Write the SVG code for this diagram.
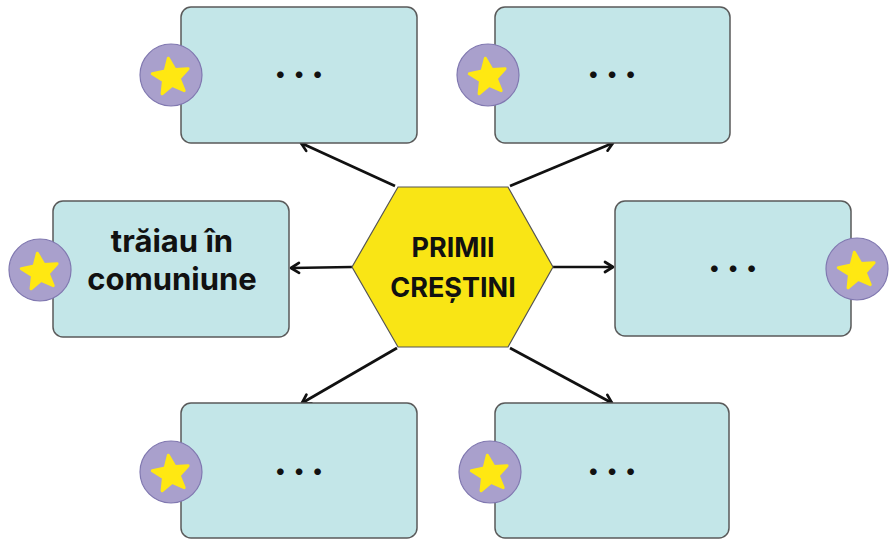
<svg xmlns="http://www.w3.org/2000/svg" width="894" height="542" viewBox="0 0 894 542">
<style>
.box{fill:#C3E6E8;stroke:#5a5a5a;stroke-width:1.5}
.badge{fill:#A9A0CC;stroke:#8078B0;stroke-width:1.2}
.star{fill:#FFE812;stroke:#FFE812;stroke-width:3;stroke-linejoin:round}
.dots{font-family:Inter,"Liberation Sans",sans-serif;font-weight:800;font-size:36px;fill:#111;text-anchor:middle;letter-spacing:6px}
.lbl{font-family:Inter,"Liberation Sans",sans-serif;font-weight:700;font-size:31px;fill:#111;text-anchor:middle}
.hub{font-family:Inter,"Liberation Sans",sans-serif;font-weight:700;font-size:27px;fill:#111;text-anchor:middle}
.conn line{stroke:#111;stroke-width:2.7}
</style>
<defs>
<marker id="arr" markerUnits="userSpaceOnUse" markerWidth="14" markerHeight="14" refX="10" refY="6" orient="auto" viewBox="0 0 14 12">
<path d="M2,1 L10,6 L2,11" fill="none" stroke="#111" stroke-width="2.7" stroke-linecap="round" stroke-linejoin="round"/>
</marker>
<path id="starShape" class="star" d="M0,-19 L4.94,-6.8 L18.07,-5.87 L7.99,2.6 L11.17,15.37 L0,8.4 L-11.17,15.37 L-7.99,2.6 L-18.07,-5.87 L-4.94,-6.8 Z"/>
</defs>
<rect width="894" height="542" fill="#fff"/>
<g class="conn" id="connectors">
<line x1="352" y1="267" x2="291" y2="268" marker-end="url(#arr)"/>
<line x1="553" y1="267" x2="613" y2="267" marker-end="url(#arr)"/>
<line x1="395" y1="186" x2="301" y2="143" marker-end="url(#arr)"/>
<line x1="510" y1="186" x2="613" y2="143" marker-end="url(#arr)"/>
<line x1="397" y1="348" x2="302" y2="403" marker-end="url(#arr)"/>
<line x1="510" y1="348" x2="612" y2="403" marker-end="url(#arr)"/>
</g>
<g id="hub">
<polygon points="398,187 508,187 553,267 508,347 398,347 352,267" fill="#F9E515" stroke="#555" stroke-width="1.2"/>
<text class="hub" x="453" y="257">PRIMII</text>
<text class="hub" x="453" y="297">CREȘTINI</text>
</g>
<g id="box-top-left">
<rect class="box" x="181" y="7" width="236" height="136" rx="10"/>
<circle class="badge" cx="171" cy="75" r="31"/>
<use href="#starShape" transform="translate(171,77) rotate(-8)"/>
<text class="dots" x="302" y="78">...</text>
</g>
<g id="box-top-right">
<rect class="box" x="495" y="7" width="235" height="136" rx="10"/>
<circle class="badge" cx="488" cy="75" r="31"/>
<use href="#starShape" transform="translate(488,77) rotate(-8)"/>
<text class="dots" x="615" y="78">...</text>
</g>
<g id="box-left">
<rect class="box" x="53" y="201" width="236" height="136" rx="10"/>
<circle class="badge" cx="40" cy="270" r="31"/>
<use href="#starShape" transform="translate(40,272) rotate(-8)"/>
<text class="lbl" x="172" y="252">trăiau în</text>
<text class="lbl" x="172" y="290">comuniune</text>
</g>
<g id="box-right">
<rect class="box" x="615" y="201" width="236" height="135" rx="10"/>
<circle class="badge" cx="857" cy="269" r="31"/>
<use href="#starShape" transform="translate(857,271) rotate(-8)"/>
<text class="dots" x="736" y="272">...</text>
</g>
<g id="box-bottom-left">
<rect class="box" x="181" y="403" width="236" height="135" rx="10"/>
<circle class="badge" cx="171" cy="472" r="31"/>
<use href="#starShape" transform="translate(171,474) rotate(-8)"/>
<text class="dots" x="302" y="475">...</text>
</g>
<g id="box-bottom-right">
<rect class="box" x="495" y="403" width="234" height="135" rx="10"/>
<circle class="badge" cx="490" cy="472" r="31"/>
<use href="#starShape" transform="translate(490,474) rotate(-8)"/>
<text class="dots" x="615" y="475">...</text>
</g>
</svg>
